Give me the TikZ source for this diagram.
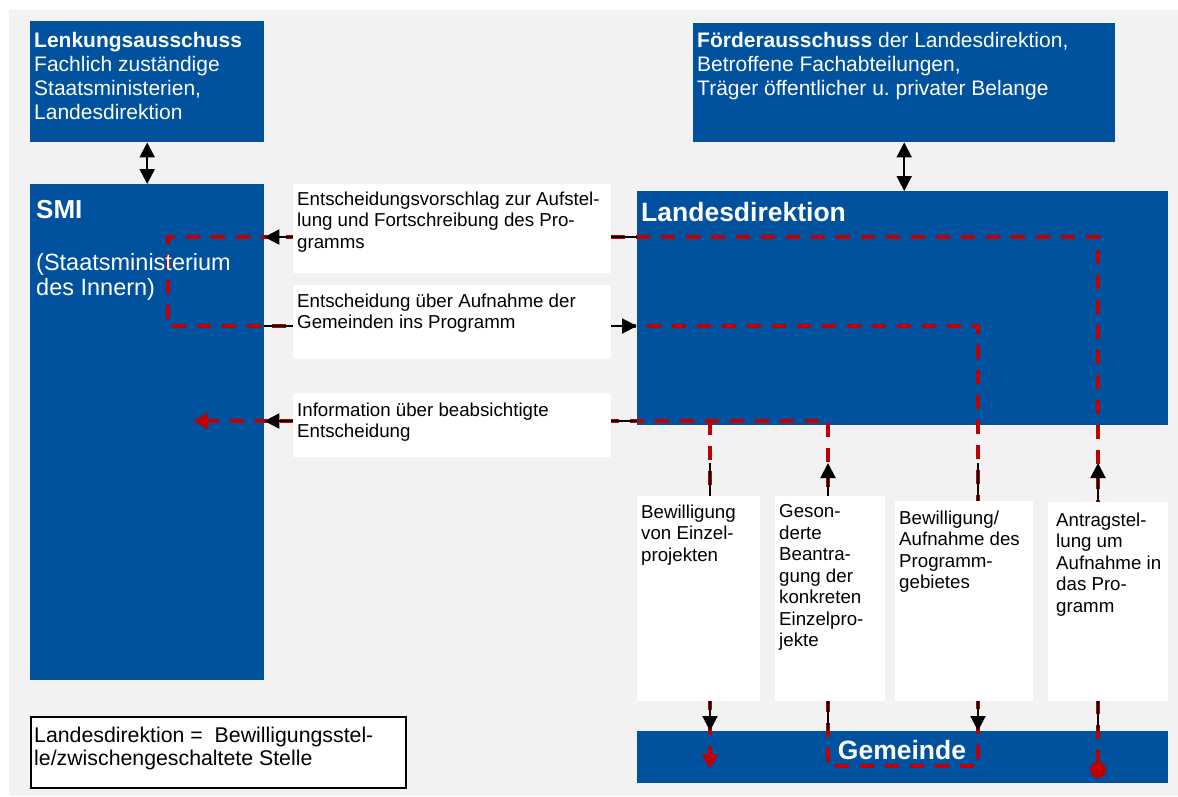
\documentclass[tikz,border=0pt]{standalone}
\usepackage{fontspec}
\setmainfont{Liberation Sans}
\usetikzlibrary{arrows.meta}
\definecolor{sblue}{RGB}{0,81,158}
\definecolor{sred}{RGB}{192,0,0}
\definecolor{sgray}{RGB}{242,242,242}
\newcommand{\fsz}[2]{\fontsize{#1}{#2}\selectfont}
\frenchspacing
\pgfdeclarelayer{bglayer}
\pgfdeclarelayer{linelayer}
\pgfsetlayers{bglayer,linelayer,main}
\tikzset{
  bluebox/.style={draw=none,fill=sblue,inner sep=0pt,anchor=north west},
  whitebox/.style={draw=none,fill=white,inner sep=0pt,anchor=north west},
  txt/.style={inner sep=0pt,anchor=north west,align=left},
  wtxt/.style={txt,text=white},
  smalltxt/.style={txt,text=black,font=\fsz{18.7}{21.5}},
  blk/.style={draw=black,line width=2pt},
  blktip/.style={blk,-{Triangle[length=15pt,width=15pt]}},
  dbltip/.style={blk,{Triangle[length=15pt,width=15pt]}-{Triangle[length=15pt,width=15pt]}},
  reddash/.style={draw=sred,line width=4pt,dash pattern=on 14pt off 11pt},
}
\begin{document}
\begin{tikzpicture}[x=1pt,y=-1pt]
\useasboundingbox (0,0) rectangle (1178,796);
\begin{pgfonlayer}{bglayer}
\fill[sgray] (9,10) rectangle (1178,796);
\node[bluebox,minimum width=234pt,minimum height=121pt] (lenk) at (30,21) {};
\node[bluebox,minimum width=422pt,minimum height=119pt] (foerd) at (693,23) {};
\node[bluebox,minimum width=234pt,minimum height=496pt] (smi) at (30,184) {};
\node[bluebox,minimum width=531pt,minimum height=234pt] (land) at (637,191) {};
\node[bluebox,minimum width=531pt,minimum height=52pt] (gem) at (637,731) {};
\end{pgfonlayer}

% white label boxes
\node[whitebox,minimum width=318pt,minimum height=89pt] (L1) at (293,184) {};
\node[whitebox,minimum width=318pt,minimum height=74pt] (L2) at (293,285) {};
\node[whitebox,minimum width=318pt,minimum height=64pt] (L3) at (293,393) {};
\node[whitebox,minimum width=123pt,minimum height=205pt] (B1) at (637,496) {};
\node[whitebox,minimum width=110pt,minimum height=205pt] (B2) at (775,496) {};
\node[whitebox,minimum width=138pt,minimum height=200pt] (B3) at (895,501) {};
\node[whitebox,minimum width=120pt,minimum height=199pt] (B4) at (1048,502) {};
\node[whitebox,draw=black,line width=1.5pt,minimum width=375pt,minimum height=71pt] (legend) at (30,716) {};

% texts
\node[wtxt,font=\fsz{21}{24}] (lenkT) at (34,32) {\textbf{Lenkungsausschuss}\\Fachlich zuständige\\Staatsministerien,\\Landesdirektion};
\node[wtxt,font=\fsz{21}{24}] (foerdT) at (697,32) {\textbf{Förderausschuss} der Landesdirektion,\\Betroffene Fachabteilungen,\\Träger öffentlicher u. privater Belange};
\node[wtxt,font=\bfseries\fsz{26}{30}] (smiT) at (36,200) {SMI};
\node[wtxt,font=\fsz{23.5}{25}] (smiT2) at (36,253) {(Staatsministerium\\des Innern)};
\node[wtxt,font=\bfseries\fsz{26.5}{30}] (landT) at (641,202) {Landesdirektion};
\node[text=white,font=\bfseries\fsz{26.5}{30},inner sep=0pt,anchor=base] (gemT) at (902,759) {Gemeinde};
\node[smalltxt] (L1T) at (297,191.5) {Entscheidungsvorschlag zur Aufstel-\\lung und Fortschreibung des Pro-\\gramms};
\node[smalltxt] (L2T) at (297,293.5) {Entscheidung über Aufnahme der\\Gemeinden ins Programm};
\node[smalltxt] (L3T) at (297,402.5) {Information über beabsichtigte\\Entscheidung};
\node[smalltxt] (B1T) at (641,504.5) {Bewilligung\\von Einzel-\\projekten};
\node[smalltxt] (B2T) at (779,504.5) {Geson-\\derte\\Beantra-\\gung der\\konkreten\\Einzelpro-\\jekte};
\node[smalltxt] (B3T) at (899,510.5) {Bewilligung/\\Aufnahme des\\Programm-\\gebietes};
\node[smalltxt] (B4T) at (1056,512.5) {Antragstel-\\lung um\\Aufnahme in\\das Pro-\\gramm};
\node[txt,text=black,font=\fsz{21.3}{23}] (legT) at (34,726.5) {Landesdirektion =\ \ Bewilligungsstel-\\le/zwischengeschaltete Stelle};

% helper coordinates
\coordinate (y1) at (0,237);
\coordinate (y2) at (0,326);
\coordinate (y3) at (0,421);
\coordinate (yv) at (0,463);
\coordinate (xa) at (168,0);
\coordinate (xb) at (710,0);
\coordinate (xc) at (828,0);
\coordinate (xd) at (978,0);
\coordinate (xe) at (1098,0);
\coordinate (rstart) at (1098,778);
\coordinate (rbottom) at (0,766);
\coordinate (rend) at (193,421);
\coordinate (rbranch) at (710,769);

\begin{pgfonlayer}{linelayer}
% red dashed flow
\draw[reddash,{Circle[length=16pt,sep=0pt]}-{Triangle[length=15pt,width=15pt]},line join=miter]
  (rstart) -- (xe |- y1) -- (xa |- y1) -- (xa |- y2) -- (xd |- y2)
  -- (xd |- rbottom) -- (xc |- rbottom) -- (xc |- y3) -- (rend);
\draw[reddash,-{Triangle[length=15pt,width=15pt]}] (xb |- y3) -- (rbranch);
% black connectors
\draw[blktip] (L1.west |- y1) -- (smi.east |- y1);
\draw[blk] (L1.east |- y1) -- (land.west |- y1);
\draw[blk] (smi.east |- y2) -- (L2.west |- y2);
\draw[blktip] (L2.east |- y2) -- (land.west |- y2);
\draw[blktip] (L3.west |- y3) -- (smi.east |- y3);
\draw[blk] (L3.east |- y3) -- (land.west |- y3);
\draw[dbltip] (lenk.south) -- (smi.north);
\draw[dbltip] (foerd.south) -- (foerd.south |- land.north);
\draw[blk] (xb |- yv) -- (xb |- B1.north);
\draw[blktip] (xc |- B2.north) -- (xc |- yv);
\draw[blk] (xd |- yv) -- (xd |- B3.north);
\draw[blktip] (xe |- B4.north) -- (xe |- yv);
\draw[blktip] (xb |- B1.south) -- (xb |- gem.north);
\draw[blk] (xc |- B2.south) -- (xc |- gem.north);
\draw[blktip] (xd |- B3.south) -- (xd |- gem.north);
\draw[blk] (xe |- B4.south) -- (xe |- gem.north);
\end{pgfonlayer}
\end{tikzpicture}
\end{document}
